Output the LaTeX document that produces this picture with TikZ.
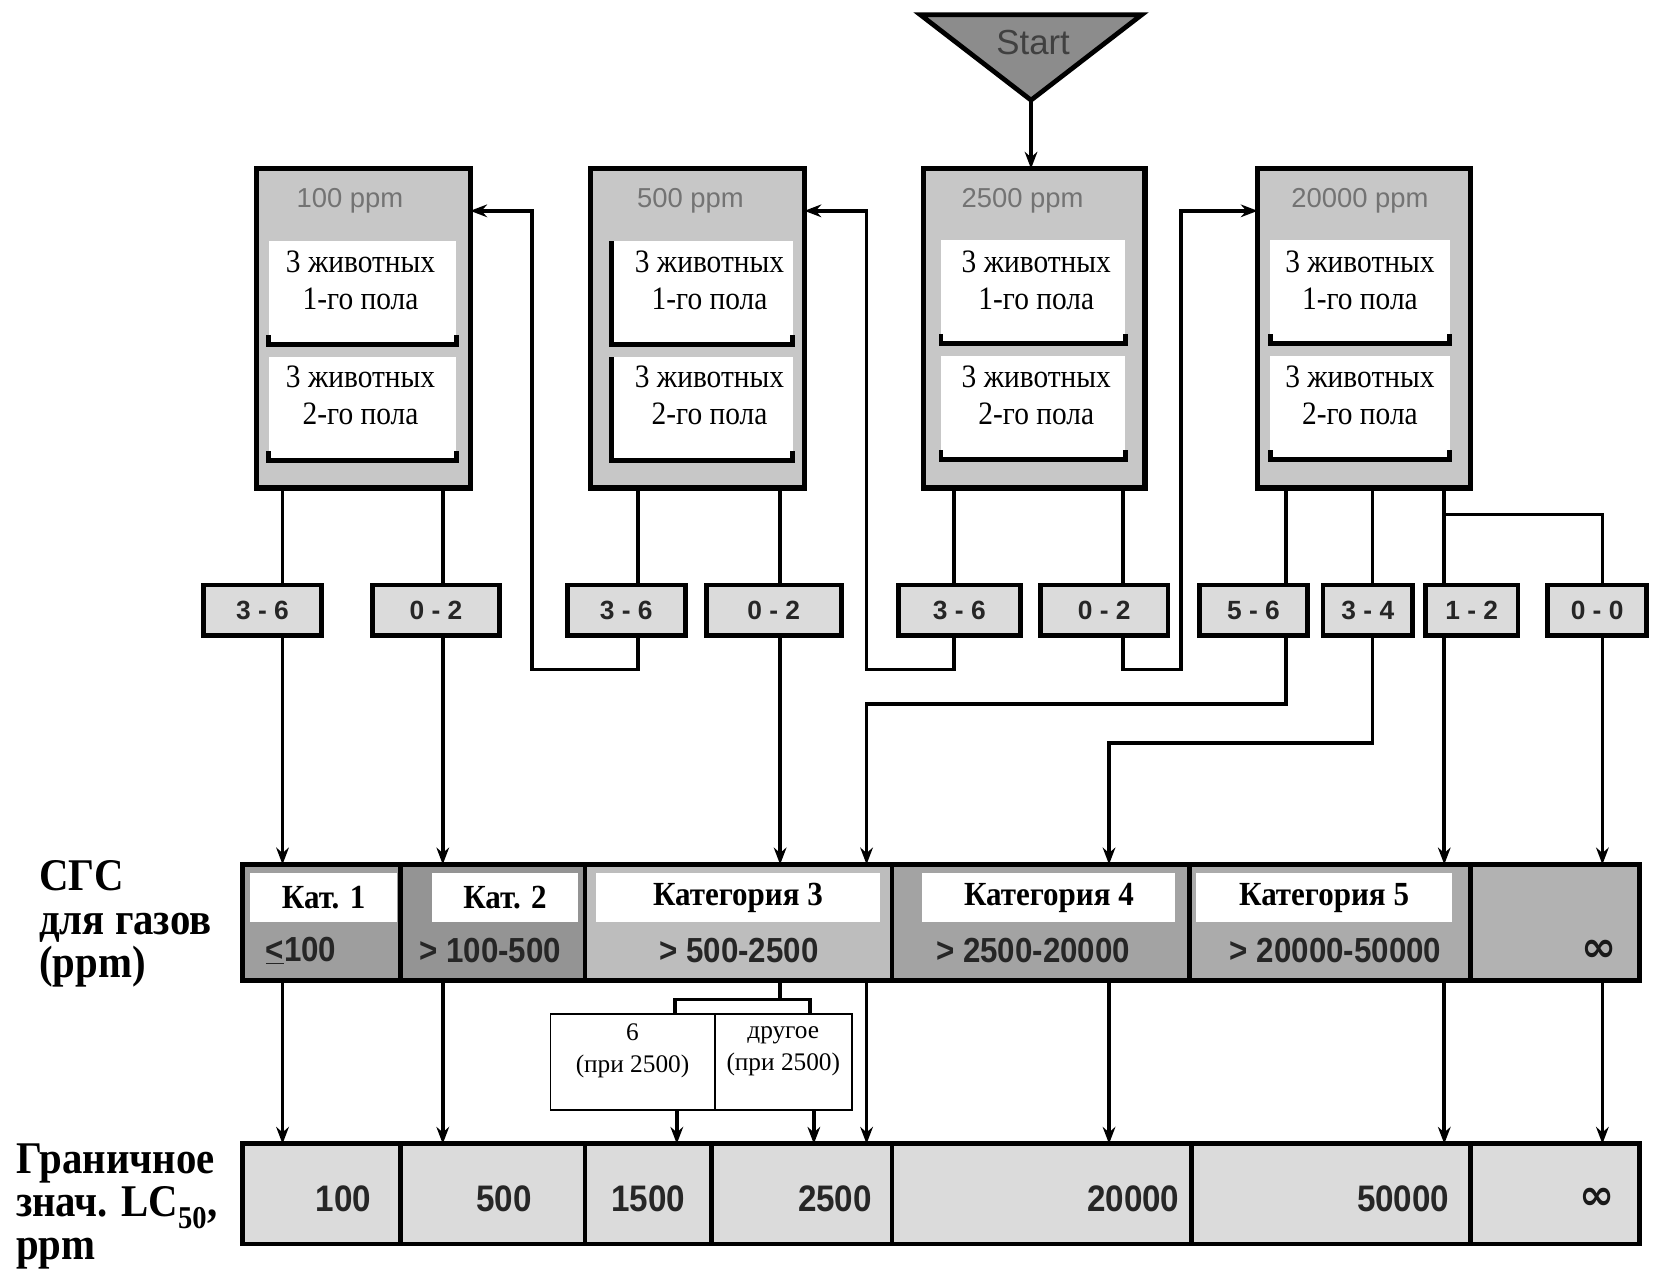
\documentclass[tikz,border=0pt]{standalone}
\usepackage{fontspec}
\setmainfont{Liberation Serif}
\setsansfont{Liberation Sans}
\newfontfamily\labfont[FakeStretch=0.9]{Liberation Serif}
\newfontfamily\catfont[FakeStretch=0.92]{Liberation Serif}
\newfontfamily\anifont[FakeStretch=0.9]{Liberation Serif}
\newfontfamily\numfont[FakeStretch=0.9]{Liberation Sans}
\newfontfamily\symfont{DejaVu Sans}
\usetikzlibrary{arrows.meta}
\begin{document}
\begin{tikzpicture}[x=1pt,y=-1pt,
  conn/.style={line width=3.6pt},
  arr/.style={line width=3.6pt,-{Stealth[length=16pt,width=12pt]}},
  ppmbox/.style={draw,line width=5pt,fill=black!22,inner sep=0pt,outer sep=0pt,minimum height=303pt},
  inbox/.style={fill=white,inner sep=0pt,outer sep=0pt,minimum height=98pt},
  brkline/.style={line width=4.5pt},
  anitext/.style={align=center,inner sep=0pt,font=\anifont\fontsize{31}{35}\selectfont},
  ppmtext/.style={text=black!55,inner sep=0pt,font=\sffamily\fontsize{26}{28}\selectfont},
  cntbox/.style={draw,line width=4.5pt,fill=black!14,inner sep=0pt,outer sep=0pt,minimum height=48pt,text=black!85,font=\sffamily\bfseries\fontsize{25}{28}\selectfont},
  cell/.style={draw,line width=4.5pt,inner sep=0pt,outer sep=0pt,minimum height=110pt},
  catbox/.style={fill=white,inner sep=0pt,outer sep=0pt,minimum height=47pt,font=\catfont\bfseries\fontsize{32}{34}\selectfont},
  rngtext/.style={text=black!85,inner sep=0pt,font=\numfont\bfseries\fontsize{33}{36}\selectfont},
  lccell/.style={draw,line width=4.5pt,fill=black!14,inner sep=0pt,outer sep=0pt,minimum height=95pt},
  lctext/.style={text=black!85,inner sep=0pt,font=\numfont\bfseries\fontsize{35}{38}\selectfont},
  inftext/.style={text=black!90,inner sep=0pt,font=\symfont\bfseries\fontsize{40}{42}\selectfont},
  sidetext/.style={align=left,anchor=base west,inner sep=0pt,font=\labfont\bfseries\fontsize{43}{41}\selectfont},
  smalltext/.style={align=center,inner sep=0pt,font=\fontsize{24}{30}\selectfont},
]
\useasboundingbox (0,0) rectangle (1568,1214);

% Start
\draw[line width=4.5pt,fill=black!45] (873,14) -- (1083,14) -- (978,95) -- cycle;
\node[inner sep=0pt,text=black!75,font=\sffamily\fontsize{33}{35}\selectfont] (start) at (980,40) {Start};
\coordinate (apex) at (978,95);

% ppm boxes
\node[ppmbox,minimum width=203pt] (b1) at (344.5,311.5) {};
\node[ppmbox,minimum width=203pt] (b2) at (661.5,311.5) {};
\node[ppmbox,minimum width=210pt] (b3) at (981,311.5) {};
\node[ppmbox,minimum width=202pt] (b4) at (1294,311.5) {};
\node[ppmtext] (p1) at (332,190) {100 ppm};
\node[ppmtext] (p2) at (655,190) {500 ppm};
\node[ppmtext] (p3) at (970,190) {2500 ppm};
\node[ppmtext] (p4) at (1290,190) {20000 ppm};

\node[inbox,minimum width=178pt] (i11) at (344,278) {};
\node[inbox,minimum width=178pt] (i12) at (344,388) {};
\node[inbox,minimum width=172pt] (i21) at (666,278) {};
\node[inbox,minimum width=172pt] (i22) at (666,388) {};
\node[inbox,minimum width=175pt] (i31) at (980,277) {};
\node[inbox,minimum width=175pt] (i32) at (980,387) {};
\node[inbox,minimum width=170pt] (i41) at (1290,277) {};
\node[inbox,minimum width=170pt] (i42) at (1290,387) {};
\foreach \n in {i11,i12,i21,i22,i31,i32,i41,i42}
  \draw[brkline] ([yshift=9pt]\n.south west) -- (\n.south west) -- (\n.south east) -- ([yshift=9pt]\n.south east);
\draw[brkline] (i21.north west) -- (i21.south west);
\draw[brkline] (i22.north west) -- (i22.south west);

\node[anitext] (t11) at (342,266) {3 животных\\1-го пола};
\node[anitext] (t12) at (342,375) {3 животных\\2-го пола};
\node[anitext] (t21) at (673,266) {3 животных\\1-го пола};
\node[anitext] (t22) at (673,375) {3 животных\\2-го пола};
\node[anitext] (t31) at (983,266) {3 животных\\1-го пола};
\node[anitext] (t32) at (983,375) {3 животных\\2-го пола};
\node[anitext] (t41) at (1290,266) {3 животных\\1-го пола};
\node[anitext] (t42) at (1290,375) {3 животных\\2-го пола};

% count boxes
\node[cntbox,minimum width=112pt] (c1) at (249,579) {3 - 6};
\node[cntbox,minimum width=121pt] (c2) at (413.5,579) {0 - 2};
\node[cntbox,minimum width=112pt] (c3) at (594,579) {3 - 6};
\node[cntbox,minimum width=128pt] (c4) at (734,579) {0 - 2};
\node[cntbox,minimum width=116pt] (c5) at (910,579) {3 - 6};
\node[cntbox,minimum width=121pt] (c6) at (1047.5,579) {0 - 2};
\node[cntbox,minimum width=102pt] (c7) at (1189,579) {5 - 6};
\node[cntbox,minimum width=85pt] (c8) at (1297.5,579) {3 - 4};
\node[cntbox,minimum width=88pt] (c9) at (1396,579) {1 - 2};
\node[cntbox,minimum width=94pt] (c10) at (1515,579) {0 - 0};

% GHS row
\node[cell,fill=black!38,minimum width=150pt] (g1) at (305,875) {};
\node[cell,fill=black!42,minimum width=175pt] (g2) at (467.5,875) {};
\node[cell,fill=black!26,minimum width=291pt] (g3) at (700.5,875) {};
\node[cell,fill=black!36,minimum width=282pt] (g4) at (987,875) {};
\node[cell,fill=black!33,minimum width=267pt] (g5) at (1261.5,875) {};
\node[cell,fill=black!30,minimum width=160pt] (g6) at (1475,875) {};
\node[catbox,minimum width=140pt] (w1) at (307,851.5) {Кат. 1};
\node[catbox,minimum width=138pt] (w2) at (479,851.5) {Кат. 2};
\node[catbox,minimum width=270pt] (w3) at (700,851.5) {Категория 3};
\node[catbox,minimum width=240pt] (w4) at (995,851.5) {Категория 4};
\node[catbox,minimum width=243pt] (w5) at (1256,851.5) {Категория 5};
\node[rngtext,anchor=west] (r1) at (252,902) {\underline{<}100};
\node[rngtext] (r2) at (465,902) {> 100-500};
\node[rngtext] (r3) at (701,902) {> 500-2500};
\node[rngtext] (r4) at (980,902) {> 2500-20000};
\node[rngtext] (r5) at (1267,902) {> 20000-50000};
\node[inftext] (r6) at (1517,902) {∞};

% LC50 row
\node[lccell,minimum width=150pt] (l1) at (305,1132.5) {};
\node[lccell,minimum width=175pt] (l2) at (467.5,1132.5) {};
\node[lccell,minimum width=120pt] (l3) at (615,1132.5) {};
\node[lccell,minimum width=171pt] (l4) at (760.5,1132.5) {};
\node[lccell,minimum width=284pt] (l5) at (988,1132.5) {};
\node[lccell,minimum width=265pt] (l6) at (1262.5,1132.5) {};
\node[lccell,minimum width=160pt] (l7) at (1475,1132.5) {};
\node[lctext] (v1) at (326,1137) {100};
\node[lctext] (v2) at (478,1137) {500};
\node[lctext] (v3) at (615,1137) {1500};
\node[lctext] (v4) at (792,1137) {2500};
\node[lctext] (v5) at (1075,1137) {20000};
\node[lctext] (v6) at (1331,1137) {50000};
\node[inftext] (v7) at (1515,1137) {∞};

% other box
\node[draw,line width=1.5pt,fill=white,minimum width=286pt,minimum height=91pt,inner sep=0pt,outer sep=0pt] (ob) at (665,1007.5) {};
\coordinate (XD) at (678,0);
\draw[line width=1.5pt] (ob.north -| XD) -- (ob.south -| XD);
\node[smalltext] (o1) at (600,997) {6\\(при 2500)};
\node[smalltext] (o2) at (743,997) {другое\\(при 2500)};

% side labels
\node[sidetext] (s1) at (37,927) {СГС\\для газов\\(ppm)};
\node[sidetext] (s2) at (15,1195) {Граничное\\знач. LC\textsubscript{50},\\ppm};

% coordinates
\coordinate (X1) at (268,0);
\coordinate (X2) at (420,0);
\coordinate (X3) at (605,0);
\coordinate (X4) at (740,0);
\coordinate (X5) at (905,0);
\coordinate (X6) at (1065,0);
\coordinate (X7) at (1220,0);
\coordinate (X8) at (1302,0);
\coordinate (X9) at (1370,0);
\coordinate (X10) at (1520,0);
\coordinate (X13) at (642,0);
\coordinate (X14) at (772,0);
\coordinate (BL) at (640,0);
\coordinate (BR) at (768,0);
\coordinate (Y200) at (0,200);
\coordinate (k1) at (505,635);
\coordinate (k2) at (822,635);
\coordinate (k3) at (1120,635);
\coordinate (k4) at (822,668);
\coordinate (k5) at (1052,705);
\coordinate (k6) at (1370,488);
\coordinate (brk) at (740,948);

% connectors
\draw[arr] (apex) -- (apex |- b3.north);
\draw[conn] (b1.south -| X1) -- (c1.north -| X1);
\draw[arr] (c1.south -| X1) -- (g1.north -| X1);
\draw[arr] (g1.south -| X1) -- (l1.north -| X1);
\draw[conn] (b1.south -| X2) -- (c2.north -| X2);
\draw[arr] (c2.south -| X2) -- (g2.north -| X2);
\draw[arr] (g2.south -| X2) -- (l2.north -| X2);
\draw[conn] (b2.south -| X3) -- (c3.north -| X3);
\draw[arr] (c3.south -| X3) |- (k1) |- (b1.east |- Y200);
\draw[conn] (b2.south -| X4) -- (c4.north -| X4);
\draw[arr] (c4.south -| X4) -- (g3.north -| X4);
\draw[conn] (b3.south -| X5) -- (c5.north -| X5);
\draw[arr] (c5.south -| X5) |- (k2) |- (b2.east |- Y200);
\draw[conn] (b3.south -| X6) -- (c6.north -| X6);
\draw[arr] (c6.south -| X6) |- (k3) |- (b4.west |- Y200);
\draw[conn] (b4.south -| X7) -- (c7.north -| X7);
\draw[arr] (c7.south -| X7) |- (k4) -- (g3.north -| k4);
\draw[conn] (b4.south -| X8) -- (c8.north -| X8);
\draw[arr] (c8.south -| X8) |- (k5) -- (g4.north -| k5);
\draw[conn] (b4.south -| X9) -- (c9.north -| X9);
\draw[conn] (k6) -| (c10.north -| X10);
\draw[arr] (c9.south -| X9) -- (g5.north -| X9);
\draw[arr] (c10.south -| X10) -- (g6.north -| X10);
\draw[arr] (g3.south -| k4) -- (l4.north -| k4);
\draw[arr] (g4.south -| k5) -- (l5.north -| k5);
\draw[arr] (g5.south -| X9) -- (l6.north -| X9);
\draw[arr] (g6.south -| X10) -- (l7.north -| X10);
\draw[conn] (g3.south -| X4) -- (brk);
\draw[conn] (ob.north -| BL) |- (brk) -| (ob.north -| BR);
\draw[arr] (ob.south -| X13) -- (l3.north -| X13);
\draw[arr] (ob.south -| X14) -- (l4.north -| X14);
\end{tikzpicture}
\end{document}
